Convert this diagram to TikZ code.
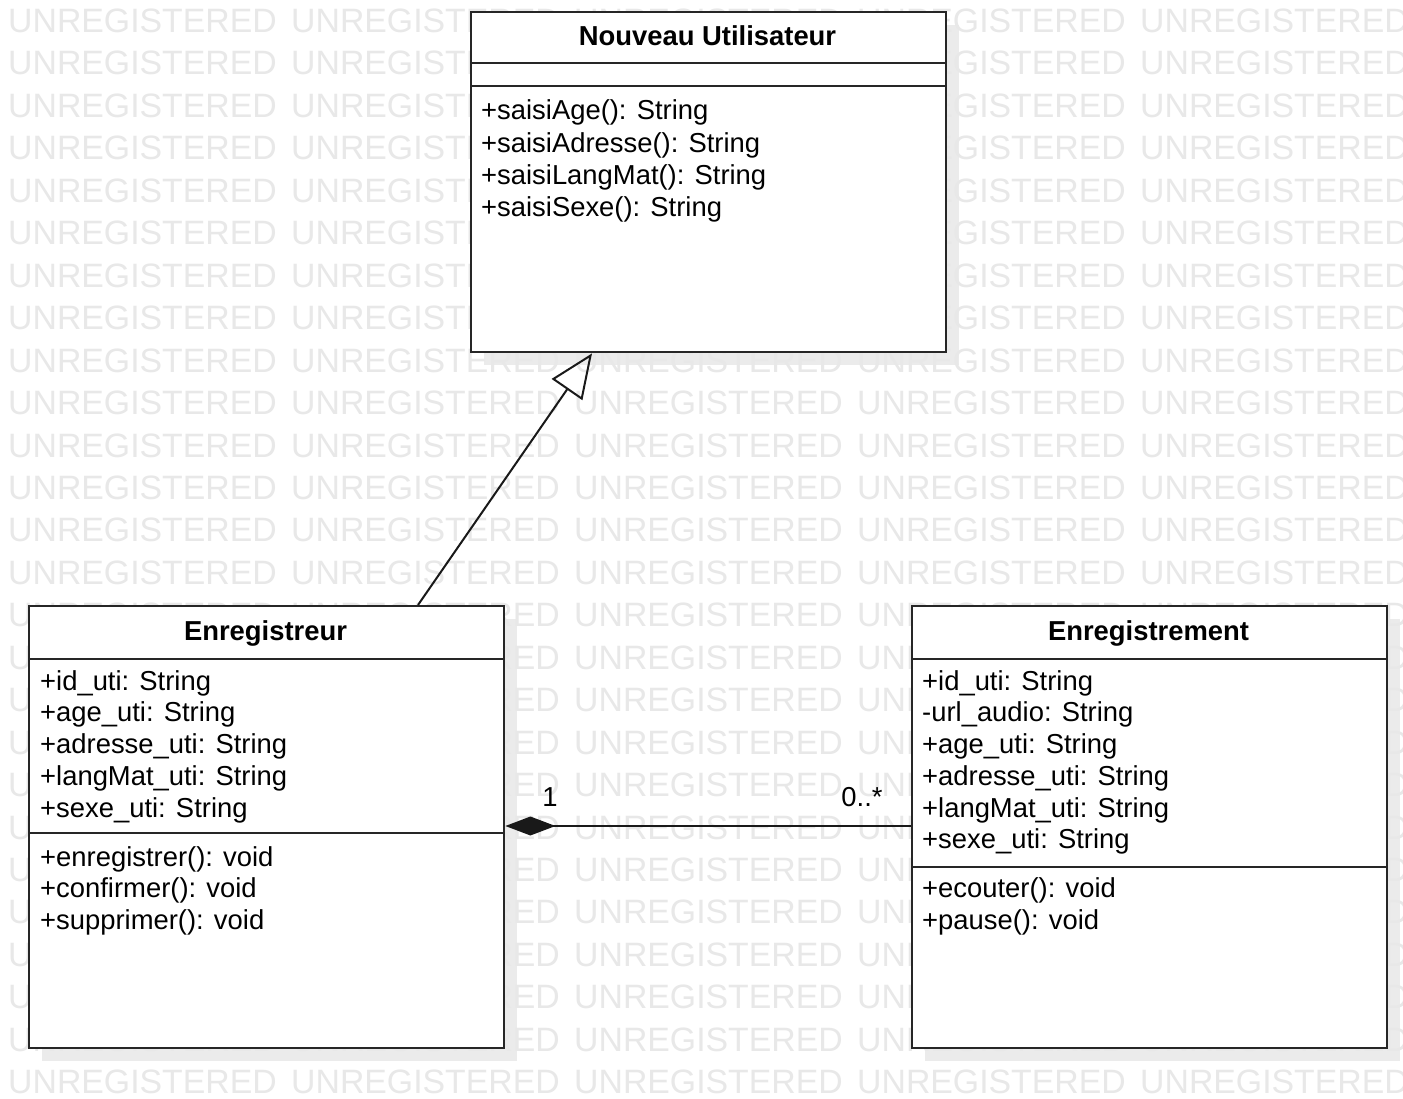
\documentclass[tikz,border=0pt]{standalone}
\usepackage{fontspec}
\setmainfont{Liberation Sans}
\usetikzlibrary{arrows.meta,calc}

\tikzset{
  classbox/.style={draw=black!85, line width=2.4pt, fill=white, inner sep=0pt, anchor=north west},
  shade box/.style={fill=black!8, draw=none},
  divider/.style={draw=black!85, line width=2pt},
  title/.style={font=\fontsize{27.4}{32}\selectfont\bfseries, inner sep=0pt, anchor=base},
  member/.style={font=\fontsize{27.4}{32}\selectfont, inner sep=0pt, anchor=base west},
  mult/.style={font=\fontsize{27.4}{32}\selectfont, inner sep=0pt, anchor=base},
  wm/.style={font=\fontsize{33.8}{40}\selectfont, text=black!9, inner sep=0pt, anchor=base west},
  link/.style={draw=black!90, line width=2pt},
}

\begin{document}
\begin{tikzpicture}[x=1pt, y=-1pt]
\useasboundingbox (0,0) rectangle (1403,1099);
\clip (0,0) rectangle (1403,1099);
\fill[white] (0,0) rectangle (1403,1099);

% drop shadows of the three classes
\fill[shade box] (484,25) rectangle (959,365);
\fill[shade box] (42,619) rectangle (517,1061);
\fill[shade box] (925,619) rectangle (1400,1061);

% background stamp (words wholly covered by the top class are left out)
\foreach \r in {0,...,25}{
  \foreach \c in {0,...,4}{
    \pgfmathtruncatemacro\hid{and(\c==2,and(\r>0,\r<8))}
    \ifnum\hid=0
      \node[wm] (wm-\r-\c) at ({8+\c*283}, {32.5+\r*42.45}) {UNREGISTERED};
    \fi
  }
}

% class frames
\node[classbox, minimum width=475pt, minimum height=340pt] (nu) at (470,11) {};
\node[classbox, minimum width=475pt, minimum height=442pt] (er) at (28,605) {};
\node[classbox, minimum width=475pt, minimum height=442pt] (et) at (911,605) {};

% compartments
\draw[divider] (nu.west |- 0,63) -- (nu.east |- 0,63);
\draw[divider] (nu.west |- 0,86) -- (nu.east |- 0,86);
\draw[divider] (er.west |- 0,659) -- (er.east |- 0,659);
\draw[divider] (er.west |- 0,833) -- (er.east |- 0,833);
\draw[divider] (et.west |- 0,659) -- (et.east |- 0,659);
\draw[divider] (et.west |- 0,867) -- (et.east |- 0,867);

% Nouveau Utilisateur
\node[title] (nu-t) at (707.5,46) {Nouveau Utilisateur};
\foreach \t [count=\i] in {+saisiAge(): String, +saisiAdresse(): String, +saisiLangMat(): String, +saisiSexe(): String}{
  \node[member] (nu-m\i) at (481, {120+(\i-1)*32.3}) {\t};
}

% Enregistreur
\node[title] (er-t) at (265.5,640) {Enregistreur};
\foreach \t [count=\i] in {+id\_uti: String, +age\_uti: String, +adresse\_uti: String, +langMat\_uti: String, +sexe\_uti: String}{
  \node[member] (er-a\i) at (40, {690+(\i-1)*31.75}) {\t};
}
\foreach \t [count=\i] in {+enregistrer(): void, +confirmer(): void, +supprimer(): void}{
  \node[member] (er-m\i) at (40, {866+(\i-1)*31.6}) {\t};
}

% Enregistrement
\node[title] (et-t) at (1148.5,640) {Enregistrement};
\foreach \t [count=\i] in {+id\_uti: String, -url\_audio: String, +age\_uti: String, +adresse\_uti: String, +langMat\_uti: String, +sexe\_uti: String}{
  \node[member] (et-a\i) at (922, {690+(\i-1)*31.75}) {\t};
}
\foreach \t [count=\i] in {+ecouter(): void, +pause(): void}{
  \node[member] (et-m\i) at (922, {897+(\i-1)*32}) {\t};
}

% generalization
\coordinate (gen-from) at ($(er.north west)+(390,0)$);
\coordinate (gen-to) at ($(nu.south west)+(122,0)$);
\draw[link, -{Triangle[open, length=44pt, width=37pt]}, line join=miter] (gen-from) -- (gen-to);

% composition
\draw[link, {Diamond[length=50pt, width=19pt]}-] (er.east |- 0,826) -- (et.west |- 0,826);
\node[mult] (m-one) at (550,806) {1};
\node[mult] (m-many) at (862,806) {0..*};
\end{tikzpicture}
\end{document}
